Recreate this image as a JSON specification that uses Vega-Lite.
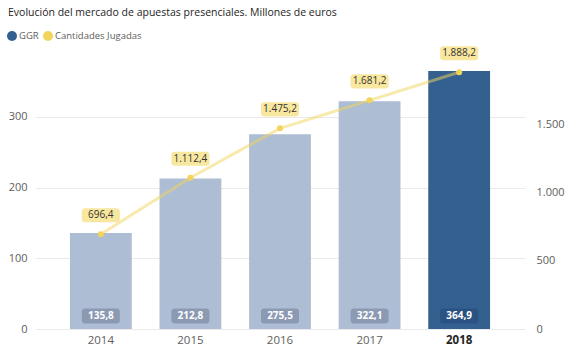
{
  "$schema": "https://vega.github.io/schema/vega-lite/v6.json",
  "width": 490,
  "height": 275,
  "autosize": {"type": "none"},
  "padding": {"left": 35, "top": 54, "right": 42, "bottom": 33},
  "background": "white",
  "title": {
    "text": "Evolución del mercado de apuestas presenciales. Millones de euros",
    "anchor": "start",
    "frame": "group",
    "dx": -27,
    "offset": 13,
    "fontSize": 10.5,
    "font": "Open Sans",
    "fontWeight": "normal",
    "color": "#252423"
  },
  "data": {
    "values": [
      {"year": "2014", "ggr": 135.8, "cj": 696.4},
      {"year": "2015", "ggr": 212.8, "cj": 1112.4},
      {"year": "2016", "ggr": 275.5, "cj": 1475.2},
      {"year": "2017", "ggr": 322.1, "cj": 1681.2},
      {"year": "2018", "ggr": 364.9, "cj": 1888.2}
    ]
  },
  "encoding": {
    "x": {
      "field": "year",
      "type": "nominal",
      "title": null,
      "scale": {"paddingInner": 0.31, "paddingOuter": 0.39},
      "axis": {
        "labelAngle": 0,
        "domain": false,
        "ticks": false,
        "labelPadding": 5,
        "labelFontSize": 11.5,
        "labelFont": "Open Sans",
        "labelColor": {"condition": {"test": "datum.value == '2018'", "value": "#252423"}, "value": "#605E5C"},
        "labelFontWeight": {"condition": {"test": "datum.value == '2018'", "value": "bold"}, "value": "normal"}
      }
    }
  },
  "layer": [
    {
      "layer": [
        {
          "mark": {"type": "bar"},
          "encoding": {
            "y": {
              "field": "ggr",
              "type": "quantitative",
              "title": null,
              "scale": {"domain": [0, 389], "nice": false},
              "axis": {
                "orient": "left",
                "values": [0, 100, 200, 300],
                "domain": false,
                "ticks": false,
                "labelPadding": 8,
                "labelFontSize": 11,
                "labelFont": "Open Sans",
                "labelColor": "#605E5C",
                "gridColor": "#EAEAEA",
                "gridWidth": 1
              }
            },
            "fill": {"condition": {"test": "datum.year == '2018'", "value": "#34608F"}, "value": "#ADBDD3"}
          }
        },
        {
          "mark": {
            "type": "point",
            "filled": true,
            "opacity": 1,
            "strokeWidth": 0,
            "size": 1444,
            "yOffset": -13,
            "shape": "M-0.84,-0.395 L0.84,-0.395 A0.16,0.16 0 0 1 1,-0.235 L1,0.235 A0.16,0.16 0 0 1 0.84,0.395 L-0.84,0.395 A0.16,0.16 0 0 1 -1,0.235 L-1,-0.235 A0.16,0.16 0 0 1 -0.84,-0.395 Z"
          },
          "encoding": {
            "y": {"datum": 0, "type": "quantitative", "title": null},
            "fill": {"condition": {"test": "datum.year == '2018'", "value": "#2A5282"}, "value": "#8B9AB2"}
          }
        },
        {
          "mark": {
            "type": "text",
            "yOffset": -13,
            "baseline": "middle",
            "align": "center",
            "fontSize": 10,
            "fontWeight": "bold",
            "font": "Open Sans",
            "color": "white"
          },
          "encoding": {
            "y": {"datum": 0, "type": "quantitative", "title": null},
            "text": {"field": "ggr", "type": "quantitative", "format": ",.1f"}
          }
        }
      ]
    },
    {
      "layer": [
        {
          "mark": {"type": "line", "color": "#F2D35C", "opacity": 0.5, "strokeWidth": 3},
          "encoding": {
            "y": {
              "field": "cj",
              "type": "quantitative",
              "title": null,
              "scale": {"domain": [0, 2022], "nice": false},
              "axis": {
                "orient": "right",
                "values": [0, 500, 1000, 1500],
                "format": ",d",
                "grid": false,
                "domain": false,
                "ticks": false,
                "labelPadding": 11,
                "labelFontSize": 11,
                "labelFont": "Open Sans",
                "labelColor": "#605E5C"
              }
            }
          }
        },
        {
          "mark": {"type": "point", "filled": true, "opacity": 1, "size": 36},
          "encoding": {
            "y": {"field": "cj", "type": "quantitative", "title": null},
            "color": {
              "datum": "Cantidades Jugadas",
              "type": "nominal",
              "scale": {"domain": ["GGR", "Cantidades Jugadas"], "range": ["#34608F", "#F2D35C"]}
            }
          }
        },
        {
          "mark": {
            "type": "point",
            "filled": true,
            "opacity": 1,
            "strokeWidth": 0,
            "size": 1444,
            "color": "#F8E79F",
            "shape": "M-0.84,-0.37 L0.84,-0.37 A0.16,0.16 0 0 1 1,-0.21 L1,0.21 A0.16,0.16 0 0 1 0.84,0.37 L-0.84,0.37 A0.16,0.16 0 0 1 -1,0.21 L-1,-0.21 A0.16,0.16 0 0 1 -0.84,-0.37 Z"
          },
          "encoding": {
            "y": {"field": "cj", "type": "quantitative", "title": null},
            "yOffset": {"condition": {"test": "datum.cj > 1800", "value": -12}, "value": -19}
          }
        },
        {
          "mark": {
            "type": "text",
            "baseline": "middle",
            "align": "center",
            "fontSize": 10,
            "font": "Open Sans",
            "color": "#333333"
          },
          "encoding": {
            "y": {"field": "cj", "type": "quantitative", "title": null},
            "yOffset": {"condition": {"test": "datum.cj > 1800", "value": -12}, "value": -19},
            "text": {"field": "cj", "type": "quantitative", "format": ",.1f"}
          }
        }
      ]
    }
  ],
  "resolve": {"scale": {"y": "independent"}},
  "config": {
    "locale": {"number": {"decimal": ",", "thousands": ".", "grouping": [3], "currency": ["", " €"]}},
    "view": {"stroke": null},
    "legend": {
      "orient": "none",
      "legendX": -28,
      "legendY": -23,
      "direction": "horizontal",
      "title": null,
      "symbolType": "circle",
      "symbolSize": 100,
      "symbolStrokeWidth": 0,
      "labelFontSize": 9.5,
      "labelFont": "Open Sans",
      "labelColor": "#605E5C",
      "labelOffset": 2,
      "columnPadding": 4
    }
  }
}
